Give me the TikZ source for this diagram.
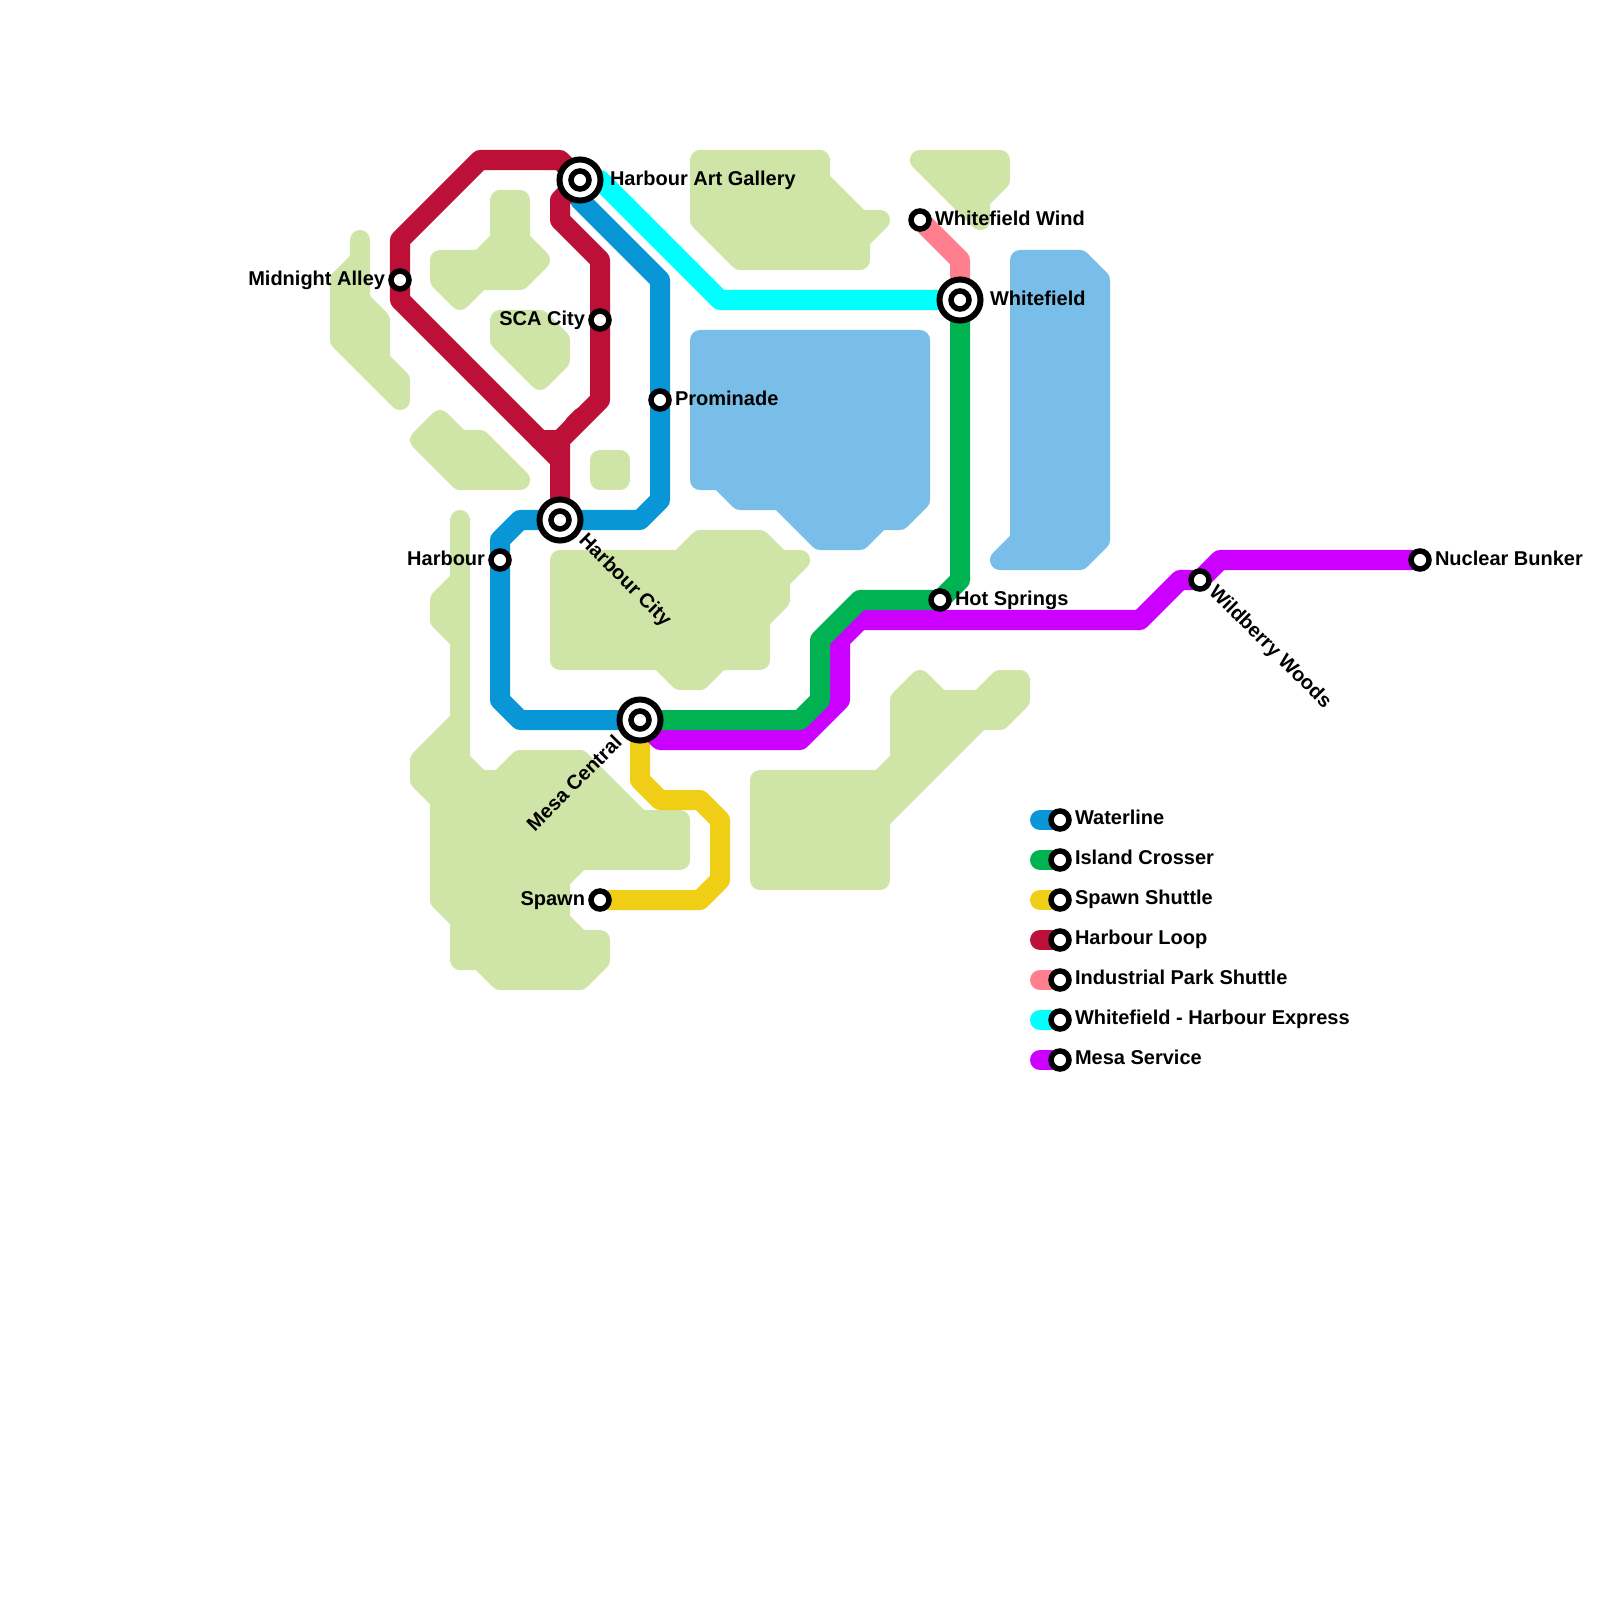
\documentclass[tikz,border=0pt]{standalone}
\usepackage{fontspec}
\setmainfont{Liberation Sans}
\definecolor{landc}{HTML}{CFE4A7}
\definecolor{waterc}{HTML}{79BDE9}
\definecolor{bluel}{HTML}{0896D7}
\definecolor{greenl}{HTML}{00B251}
\definecolor{yellowl}{HTML}{F0CE15}
\definecolor{redl}{HTML}{BD1038}
\definecolor{pinkl}{HTML}{FF7F8F}
\definecolor{cyanl}{HTML}{00FFFF}
\definecolor{purplel}{HTML}{CC00FF}
\tikzset{
  landshape/.style={fill=landc,draw=landc,line width=.2cm,line join=round},
  watershape/.style={fill=waterc,draw=waterc,line width=.2cm,line join=round},
  metro/.style={line width=.2cm,line join=round,line cap=round},
  stn/.style={circle,draw=black,fill=white,line width=.055cm,minimum size=.18cm,inner sep=0pt,outer sep=0pt},
  bigstn/.style={circle,draw=black,fill=white,line width=.06cm,minimum size=.41cm,inner sep=0pt,outer sep=0pt},
  lab/.style={font=\fontsize{5.69pt}{7pt}\selectfont\bfseries,inner sep=0pt,outer sep=0pt,text=black},
  labl/.style={lab,anchor=base west},
  labr/.style={lab,anchor=base east}
}
\begin{document}
\begin{tikzpicture}[x=.01cm,y=-.01cm]
\useasboundingbox (0,0) rectangle (1600,1600);
% land
\filldraw[landshape] (360,240)--(360,300)--(380,320)--(380,360)--(400,380)--(400,400)--(340,340)--(340,280)--(360,260)--cycle;
\filldraw[landshape] (440,260)--(480,260)--(500,240)--(500,200)--(520,200)--(520,240)--(540,260)--(520,280)--(480,280)--(460,300)--(440,280)--cycle;
\filldraw[landshape] (500,320)--(540,320)--(560,340)--(560,360)--(540,380)--(500,340)--cycle;
\filldraw[landshape] (440,420)--(460,440)--(480,440)--(520,480)--(460,480)--(420,440)--cycle;
\filldraw[landshape] (600,460)--(620,460)--(620,480)--(600,480)--cycle;
\filldraw[landshape] (460,520)--(460,760)--(480,780)--(500,780)--(520,760)--(580,760)--(640,820)--(680,820)--(680,860)--(580,860)--(560,880)--(560,920)--(580,940)--(600,940)--(600,960)--(580,980)--(500,980)--(480,960)--(460,960)--(460,920)--(440,900)--(440,800)--(420,780)--(420,760)--(460,720)--(460,640)--(440,620)--(440,600)--(460,580)--cycle;
\filldraw[landshape] (560,560)--(680,560)--(700,540)--(760,540)--(780,560)--(800,560)--(780,580)--(780,600)--(760,620)--(760,660)--(720,660)--(700,680)--(680,680)--(660,660)--(560,660)--cycle;
\filldraw[landshape] (700,160)--(820,160)--(820,180)--(860,220)--(880,220)--(860,240)--(860,260)--(740,260)--(700,220)--cycle;
\filldraw[landshape] (920,160)--(1000,160)--(1000,180)--(980,200)--(980,220)--cycle;
\filldraw[landshape] (760,780)--(880,780)--(900,760)--(900,700)--(920,680)--(940,700)--(980,700)--(1000,680)--(1020,680)--(1020,700)--(1000,720)--(980,720)--(880,820)--(880,880)--(760,880)--cycle;
% water
\filldraw[watershape] (700,340)--(920,340)--(920,500)--(900,520)--(880,520)--(860,540)--(820,540)--(780,500)--(740,500)--(720,480)--(700,480)--cycle;
\filldraw[watershape] (1020,260)--(1080,260)--(1100,280)--(1100,540)--(1080,560)--(1000,560)--(1020,540)--cycle;
% station anchors
\coordinate (hag) at (580,180);
\coordinate (hc) at (560,520);
\coordinate (mc) at (640,720);
\coordinate (wf) at (960,300);
\coordinate (ww) at (920,220);
\coordinate (hs) at (940,600);
\coordinate (pr) at (660,400);
\coordinate (sca) at (600,320);
\coordinate (ma) at (400,280);
\coordinate (hb) at (500,560);
\coordinate (sp) at (600,900);
\coordinate (wb) at (1200,580);
\coordinate (nb) at (1420,560);
% lines
\draw[metro,cyanl] (hag)--(600,180)--(720,300)--(wf);
\draw[metro,bluel] (hag)--(580,200)--(660,280)--(pr)--(660,500)--(640,520)--(hc)--(520,520)--(500,540)--(hb)--(500,700)--(520,720)--(mc);
\draw[metro,redl] (hc)--(560,440)--(600,400)--(sca)--(600,260)--(560,220)--(560,200)--(hag)--(560,160)--(480,160)--(400,240)--(ma)--(400,300)--(560,460);
\draw[metro,redl] (540,440)--(560,440);
\draw[metro,redl] (574,425)--(582,417);
\draw[metro,yellowl] (mc)--(640,780)--(660,800)--(700,800)--(720,820)--(720,880)--(700,900)--(sp);
\draw[metro,pinkl] (ww)--(960,260)--(wf);
\draw[metro,purplel] (mc)--(660,740)--(800,740)--(840,700)--(840,640)--(860,620)--(1140,620)--(1180,580)--(wb)--(1220,560)--(nb);
\draw[metro,greenl] (mc)--(800,720)--(820,700)--(820,640)--(860,600)--(hs)--(960,580)--(wf);
% stations
\node[bigstn] (hagB) at (hag) {}; \node[stn] (hagS) at (hag) {};
\node[bigstn] (hcB) at (hc) {}; \node[stn] (hcS) at (hc) {};
\node[bigstn] (mcB) at (mc) {}; \node[stn] (mcS) at (mc) {};
\node[bigstn] (wfB) at (wf) {}; \node[stn] (wfS) at (wf) {};
\node[stn] (wwS) at (ww) {};
\node[stn] (hsS) at (hs) {};
\node[stn] (prS) at (pr) {};
\node[stn] (scaS) at (sca) {};
\node[stn] (maS) at (ma) {};
\node[stn] (hbS) at (hb) {};
\node[stn] (spS) at (sp) {};
\node[stn] (wbS) at (wb) {};
\node[stn] (nbS) at (nb) {};
% labels
\node[labl] (t1) at (610,185.5) {Harbour Art Gallery};
\node[labl] (t2) at (990,305.5) {Whitefield};
\node[labl] (t3) at (935,225.5) {Whitefield Wind};
\node[labl] (t4) at (955,605.5) {Hot Springs};
\node[labl] (t5) at (675,405.5) {Prominade};
\node[labl] (t6) at (1435,565.5) {Nuclear Bunker};
\node[labr] (t7) at (385,285.5) {Midnight Alley};
\node[labr] (t8) at (585,325.5) {SCA City};
\node[labr] (t9) at (485,565.5) {Harbour};
\node[labr] (t10) at (585,905.5) {Spawn};
\node[labl,rotate=-45] (t11) at (578,541.5) {Harbour City};
\node[labl,rotate=-45] (t12) at (1208,593) {Wildberry Woods};
\node[labr,rotate=45] (t13) at (623,744) {Mesa Central};
% legend
\foreach \yy/\cc/\tt [count=\i] in {820/bluel/Waterline,860/greenl/Island Crosser,900/yellowl/Spawn Shuttle,940/redl/Harbour Loop,980/pinkl/Industrial Park Shuttle,1020/cyanl/Whitefield - Harbour Express,1060/purplel/Mesa Service}{
  \coordinate (legs\i) at (1040,\yy);
  \coordinate (lege\i) at (1060,\yy);
  \draw[metro,\cc] (legs\i)--(lege\i);
  \node[stn] (legc\i) at (lege\i) {};
  \node[labl] (legt\i) at (1075,\yy+4.5) {\tt};
}
\end{tikzpicture}
\end{document}
